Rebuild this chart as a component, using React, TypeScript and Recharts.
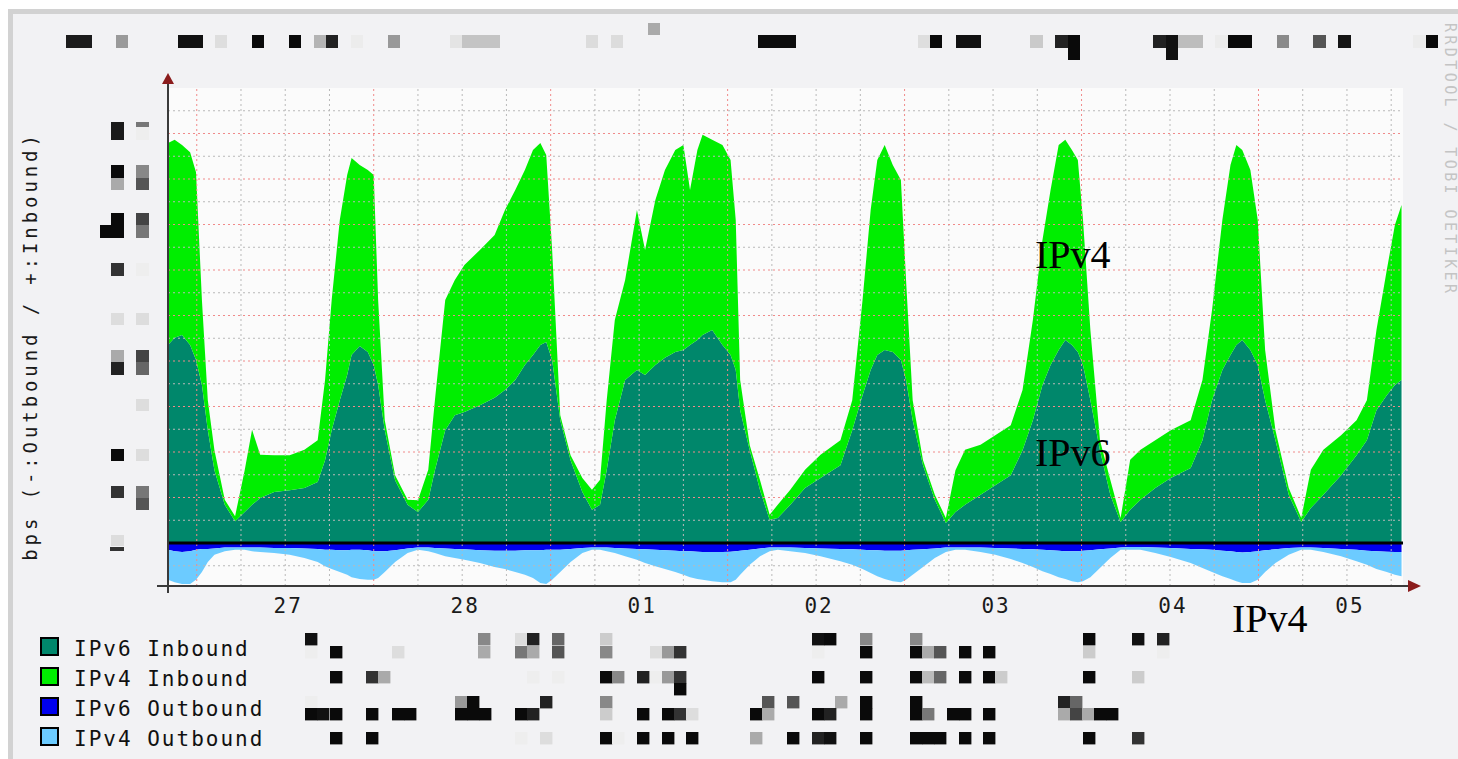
import React from "react";
import { AreaChart, Area, XAxis, YAxis, ReferenceLine } from "recharts";

// hours since the 27th 00:00, one week of samples
const hours = [
  -3.9, -3.0, -2.0, -0.9, -0.1, 0.7, 1.5, 2.4, 3.8, 5.2,
  6.5, 7.5, 8.6, 10.5, 12.6, 14.6, 16.4, 17.4, 18.3, 19.4,
  20.4, 21.0, 22.1, 23.2, 24.0, 24.6, 25.5, 26.9, 28.6, 30.0,
  31.4, 32.3, 33.7, 35.0, 36.3, 38.4, 40.4, 41.8, 43.2, 44.5,
  45.6, 46.6, 47.4, 48.2, 49.3, 50.7, 52.3, 53.6, 54.7, 55.6,
  56.7, 58.1, 59.7, 60.8, 62.2, 63.5, 64.9, 66.0, 66.9, 67.9,
  68.6, 69.9, 71.3, 72.4, 73.1, 73.7, 75.0, 76.4, 77.7, 78.8,
  80.5, 82.5, 84.6, 87.3, 88.9, 90.3, 91.4, 92.3, 93.3, 94.4,
  95.5, 96.2, 97.1, 98.5, 100.1, 101.6, 102.9, 104.2, 106.3, 108.3,
  110.4, 112.0, 113.4, 114.7, 115.8, 116.9, 117.8, 118.7, 119.5, 120.2,
  121.2, 122.5, 123.9, 125.3, 126.6, 128.0, 130.0, 132.1, 134.8, 136.4,
  137.7, 139.1, 140.2, 141.0, 141.8, 142.9, 143.9, 144.9, 146.3, 148.1,
  149.8, 151.1, 152.8, 155.2, 157.3, 158.7, 160.0, 161.4, 162.5, 163.4,
];

const ipv6In = [
  43.5, 45.1, 45.7, 43.5, 40.2, 34.7, 24.8, 16.0, 8.4, 4.8,
  6.8, 8.4, 9.9, 11.2, 11.6, 12.1, 13.4, 18.2, 24.8, 31.4,
  36.9, 41.3, 43.3, 42.0, 39.1, 34.7, 24.8, 13.8, 8.4, 6.8,
  9.5, 16.0, 24.8, 28.1, 28.8, 30.3, 31.9, 33.6, 35.8, 39.1,
  41.3, 43.5, 44.2, 40.2, 27.0, 18.2, 11.2, 7.3, 8.4, 16.0,
  27.0, 35.8, 38.0, 36.9, 39.1, 40.7, 42.0, 42.4, 43.5, 44.6,
  45.7, 46.8, 43.5, 41.3, 38.0, 29.2, 20.4, 11.6, 5.1, 5.5,
  8.4, 12.1, 14.3, 17.1, 24.8, 32.5, 38.0, 41.3, 42.4, 42.0,
  40.2, 35.8, 27.0, 17.1, 9.5, 4.4, 6.8, 8.4, 10.6, 12.7,
  14.9, 20.4, 27.0, 34.7, 39.1, 42.4, 44.6, 43.5, 42.0, 39.1,
  31.4, 20.4, 10.6, 4.6, 7.3, 9.5, 12.1, 14.3, 16.5, 22.6,
  31.4, 38.0, 41.3, 43.5, 44.6, 42.4, 39.1, 31.4, 22.6, 10.6,
  4.6, 7.7, 10.6, 14.9, 19.3, 22.6, 29.2, 32.5, 34.7, 35.8,
];

const ipv4In = [
  44.4, 43.5, 41.8, 42.4, 41.3, 18.7, 6.6, 4.4, 1.1, 1.1,
  9.2, 16.5, 9.5, 8.1, 7.7, 8.4, 9.2, 17.6, 28.6, 39.6,
  44.0, 43.3, 39.8, 40.0, 41.8, 18.7, 2.2, 1.1, 1.1, 2.6,
  6.6, 15.4, 28.6, 29.7, 32.3, 34.1, 35.8, 39.6, 41.8, 42.9,
  45.1, 44.4, 41.1, 24.2, 1.1, 1.1, 3.1, 4.4, 5.5, 15.4,
  22.0, 22.0, 35.2, 27.5, 36.3, 41.3, 44.4, 45.1, 34.1, 41.8,
  44.0, 41.8, 44.0, 42.9, 33.0, 6.6, 1.1, 2.2, 1.1, 2.9,
  3.3, 4.0, 5.1, 5.5, 6.6, 20.9, 35.2, 42.9, 45.1, 41.1,
  39.6, 22.0, 4.4, 1.1, 1.1, 1.1, 9.2, 12.1, 11.0, 11.0,
  11.0, 13.2, 22.0, 31.9, 38.5, 45.1, 44.0, 42.9, 42.2, 31.9,
  15.4, 2.2, 3.3, 0.9, 11.0, 11.0, 10.5, 10.5, 10.5, 13.2,
  19.8, 33.0, 41.8, 44.0, 41.8, 39.6, 31.9, 11.0, 2.2, 1.5,
  0.9, 8.4, 9.9, 8.8, 7.7, 8.8, 17.6, 27.5, 35.2, 38.5,
];

const ipv6Out = [
  -1.5, -1.8, -2.0, -1.8, -1.5, -1.3, -1.3, -1.2, -1.0, -1.0,
  -1.0, -1.0, -1.0, -1.1, -1.1, -1.2, -1.3, -1.5, -1.5, -1.6,
  -1.6, -1.5, -1.5, -1.6, -1.8, -1.8, -1.8, -1.6, -1.2, -1.0,
  -1.0, -1.1, -1.2, -1.3, -1.4, -1.6, -1.7, -1.7, -1.7, -1.6,
  -1.6, -1.6, -1.5, -1.5, -1.5, -1.3, -1.1, -1.0, -1.0, -1.0,
  -1.1, -1.2, -1.3, -1.4, -1.5, -1.6, -1.7, -1.8, -1.8, -1.9,
  -2.0, -2.0, -2.0, -1.9, -1.8, -1.7, -1.5, -1.2, -1.0, -1.0,
  -1.0, -1.1, -1.2, -1.3, -1.4, -1.5, -1.6, -1.6, -1.7, -1.7,
  -1.7, -1.6, -1.5, -1.4, -1.2, -1.0, -1.0, -1.0, -1.0, -1.1,
  -1.2, -1.3, -1.4, -1.5, -1.6, -1.7, -1.8, -1.8, -1.8, -1.7,
  -1.6, -1.4, -1.2, -1.0, -0.9, -0.9, -1.0, -1.1, -1.3, -1.4,
  -1.5, -1.7, -1.8, -2.0, -2.1, -2.0, -1.8, -1.6, -1.4, -1.1,
  -1.0, -1.0, -1.1, -1.3, -1.5, -1.7, -1.8, -1.9, -2.0, -2.0,
];

const ipv4Out = [
  -6.6, -6.8, -7.0, -7.2, -6.6, -5.1, -2.9, -1.4, -0.8, -0.5,
  -0.5, -0.8, -1.0, -1.1, -1.5, -2.1, -2.9, -3.6, -4.2, -4.8,
  -5.4, -6.0, -6.4, -6.5, -6.3, -5.9, -4.6, -2.6, -1.0, -0.5,
  -0.8, -1.1, -1.7, -2.0, -2.3, -2.8, -3.6, -4.0, -4.7, -5.4,
  -6.1, -7.2, -7.5, -6.6, -4.9, -2.9, -1.1, -0.5, -0.5, -0.8,
  -1.1, -1.7, -2.4, -3.0, -3.6, -4.1, -4.7, -5.2, -5.7, -6.0,
  -6.1, -6.4, -6.6, -6.7, -6.3, -5.3, -3.3, -1.7, -0.8, -0.5,
  -0.8, -1.1, -1.7, -2.7, -3.4, -4.2, -5.0, -5.7, -6.2, -6.7,
  -6.9, -6.5, -5.5, -3.9, -2.1, -1.0, -0.5, -0.5, -1.0, -1.5,
  -2.3, -3.1, -3.9, -4.7, -5.2, -5.8, -6.1, -6.6, -6.8, -6.7,
  -5.9, -4.1, -2.1, -0.5, -0.6, -0.6, -1.2, -2.0, -3.1, -4.1,
  -4.9, -5.6, -6.1, -6.4, -6.7, -6.8, -6.3, -4.8, -3.0, -1.5,
  -0.5, -0.5, -0.9, -1.6, -2.5, -3.1, -3.9, -4.5, -5.0, -5.3,
];

const dayTicks = [12, 36, 60, 84, 108, 132, 156];
const dayLabels = ["27", "28", "01", "02", "03", "04", "05"];

// grid: red = midnight / every 10, grey = every 6h / every 5
const majorHours = [0, 24, 48, 72, 96, 120, 144];
const minorHours = [6, 12, 18, 30, 36, 42, 54, 60, 66, 78, 84, 90, 102, 108, 114, 126, 132, 138, 150, 156, 162];
const majorLevels = [10, 20, 30, 40, 50, 60, 70, 80, 90];
const minorLevels = [-5, 5, 15, 25, 35, 45, 55, 65, 75, 85, 95];

const series = [
  { key: "v6in", name: "IPv6 Inbound", color: "#00876b" },
  { key: "v4in", name: "IPv4 Inbound", color: "#00ee00" },
  { key: "v6out", name: "IPv6 Outbound", color: "#0000ee" },
  { key: "v4out", name: "IPv4 Outbound", color: "#6ccbff" },
];

const data = hours.map((h, i) => ({
  h,
  v6in: ipv6In[i],
  v4in: ipv4In[i],
  v6out: ipv6Out[i],
  v4out: ipv4Out[i],
}));

// blurred-out text blocks in the original picture: [x, y, w, h, shade]
type Block = [number, number, number, number, string];
const K = "#0a0a0a";
const headerBlocks: Block[] = [
  [66, 35, 26, 13, "#1c1c1c"], [116, 35, 12, 13, "#9a9a9a"], [178, 35, 25, 13, "#111"], [215, 35, 12, 13, "#dedede"],
  [252, 35, 12, 13, K], [289, 35, 12, 13, K], [314, 35, 12, 13, "#b4b4b4"], [326, 35, 12, 13, "#222"],
  [351, 35, 12, 13, "#ececec"], [388, 35, 12, 13, "#999"], [450, 35, 12, 13, "#e4e4e4"], [462, 35, 38, 13, "#c4c4c4"],
  [586, 35, 12, 13, "#dcdcdc"], [611, 35, 12, 13, "#dcdcdc"], [648, 23, 12, 12, "#aaa"], [758, 35, 38, 13, "#0d0d0d"],
  [918, 35, 12, 13, "#dedede"], [930, 35, 12, 13, K], [956, 35, 25, 13, "#111"], [1030, 35, 13, 13, "#cacaca"],
  [1055, 35, 13, 13, "#222"], [1068, 35, 12, 25, K], [1153, 35, 13, 13, "#222"], [1166, 35, 12, 25, "#111"],
  [1178, 35, 25, 13, "#bdbdbd"], [1215, 35, 13, 13, "#ececec"], [1228, 35, 24, 13, K], [1277, 35, 12, 13, "#8a8a8a"],
  [1313, 35, 13, 13, "#555"], [1338, 35, 13, 13, "#151515"], [1413, 35, 13, 13, "#ececec"], [1426, 35, 12, 13, K],
];
const axisBlocks: Block[] = [
  [111, 122, 13, 18, "#1a1a1a"], [136, 122, 13, 5, "#777"], [136, 127, 13, 13, "#eee"],
  [111, 165, 13, 13, K], [136, 165, 13, 13, "#888"], [111, 178, 13, 12, "#aaa"], [136, 178, 13, 12, "#555"],
  [111, 213, 13, 25, K], [100, 225, 11, 13, K], [136, 213, 13, 12, "#444"], [136, 225, 13, 13, "#777"],
  [111, 263, 13, 13, "#333"], [136, 263, 13, 13, "#eee"],
  [111, 313, 13, 12, "#ddd"], [136, 313, 13, 12, "#ddd"],
  [111, 350, 13, 12, "#aaa"], [136, 350, 13, 12, "#444"], [111, 362, 13, 13, "#222"], [136, 362, 13, 13, "#666"],
  [136, 399, 13, 12, "#ddd"],
  [111, 449, 13, 12, K], [136, 449, 13, 12, "#ddd"],
  [111, 486, 13, 12, "#333"], [136, 486, 13, 12, "#777"], [136, 498, 13, 12, "#555"],
  [111, 535, 13, 11, "#ddd"], [110, 547, 14, 4, "#333"],
];
const legendRows: [number, [number, string][]][] = [
  [633, [[305, "#111"], [478, "#888"], [515, "#ddd"], [527, "#222"], [552, "#666"], [600, "#ccc"], [812, "#111"], [824, K], [860, "#888"], [910, "#888"], [1083, K], [1132, "#111"], [1157, "#222"]]],
  [646, [[305, "#eee"], [330, K], [392, "#ddd"], [478, "#aaa"], [515, "#777"], [527, "#aaa"], [552, "#555"], [600, "#888"], [650, "#ddd"], [662, "#999"], [674, "#333"], [812, "#eee"], [860, K], [910, K], [922, "#aaa"], [934, "#555"], [959, K], [983, K], [1083, "#ccc"], [1157, "#eee"]]],
  [671, [[330, K], [366, "#333"], [378, "#aaa"], [527, "#eee"], [552, "#eee"], [600, K], [612, "#888"], [637, "#222"], [650, "#eee"], [662, "#999"], [674, "#333"], [812, K], [860, K], [910, K], [922, "#bbb"], [934, "#666"], [959, K], [983, K], [995, "#ccc"], [1083, K], [1132, "#ccc"]]],
  [683, [[674, K]]],
  [696, [[305, "#eee"], [455, "#999"], [467, K], [540, "#222"], [600, "#888"], [762, "#555"], [787, "#555"], [835, "#aaa"], [860, K], [910, K], [1058, "#222"], [1070, "#666"]]],
  [708, [[305, K], [317, "#111"], [330, K], [366, K], [392, K], [404, K], [455, K], [467, K], [479, K], [515, K], [527, "#222"], [600, "#ccc"], [637, K], [662, K], [674, "#333"], [686, "#ddd"], [750, K], [762, "#aaa"], [812, K], [824, "#222"], [860, K], [910, K], [922, "#777"], [947, K], [959, K], [983, K], [1058, "#aaa"], [1070, "#444"], [1082, "#aaa"], [1094, K], [1106, K]]],
  [732, [[330, K], [366, K], [515, "#eee"], [540, "#ddd"], [600, K], [612, "#eee"], [637, K], [662, K], [686, K], [750, "#aaa"], [787, K], [812, "#222"], [824, "#111"], [860, K], [910, K], [922, K], [934, K], [959, K], [983, K], [1083, K], [1132, "#333"]]],
];

const MONO = "'DejaVu Sans Mono', monospace";

function DayTick(props: any) {
  const { x, y, payload } = props;
  const i = dayTicks.indexOf(payload.value);
  return (
    <text x={x + 3} y={y + 27} textAnchor="middle" fontFamily={MONO} fontSize={21} letterSpacing={2} fill="#1a1a1a">
      {dayLabels[i]}
    </text>
  );
}

export default function App() {
  const blocks: Block[] = [
    ...headerBlocks,
    ...axisBlocks,
    ...legendRows.flatMap(([y, row]) => row.map(([x, c]) => [x, y, 12.4, 12.4, c] as Block)),
  ];
  return (
    <div style={{ position: "absolute", left: 0, top: 0, width: 1458, height: 759, background: "#fff", overflow: "hidden" }}>
      <div
        style={{
          position: "absolute", left: 8, top: 9, right: 0, bottom: 0,
          borderTop: "5px solid #d2d2d2", borderLeft: "5px solid #d2d2d2", background: "#f2f2f4",
        }}
      />
      <div style={{ position: "absolute", left: 168, top: 88, width: 1235, height: 498, background: "#fbfbfb" }} />
      <div style={{ position: "absolute", left: 0, top: 0 }}>
        <AreaChart
          width={1458}
          height={759}
          data={data}
          stackOffset="sign"
          margin={{ top: 88, right: 55, bottom: 143, left: 168 }}
        >
          <XAxis
            type="number"
            dataKey="h"
            domain={[-3.9, 163.6]}
            ticks={dayTicks}
            tick={<DayTick />}
            axisLine={false}
            tickLine={false}
            tickSize={0}
            tickMargin={0}
            height={30}
            allowDataOverflow
          />
          <YAxis type="number" domain={[-9.45, 100]} hide width={0} allowDataOverflow />
          {series.map((s) => (
            <Area
              key={s.key}
              dataKey={s.key}
              name={s.name}
              stackId="a"
              type="linear"
              fill={s.color}
              fillOpacity={1}
              stroke="none"
              dot={false}
              activeDot={false}
              isAnimationActive={false}
            />
          ))}
          {minorHours.map((h) => (
            <ReferenceLine key={"mh" + h} x={h} stroke="#b9b9b9" strokeDasharray="2 3" />
          ))}
          {minorLevels.map((v) => (
            <ReferenceLine key={"mv" + v} y={v} stroke="#b9b9b9" strokeDasharray="2 3" />
          ))}
          {majorHours.map((h) => (
            <ReferenceLine key={"Mh" + h} x={h} stroke="#f08a8a" strokeDasharray="2 3" />
          ))}
          {majorLevels.map((v) => (
            <ReferenceLine key={"Mv" + v} y={v} stroke="#f08a8a" strokeDasharray="2 3" />
          ))}
          <ReferenceLine y={0} stroke="#000" strokeWidth={3} />
        </AreaChart>
      </div>
      <svg width={1458} height={759} style={{ position: "absolute", left: 0, top: 0, pointerEvents: "none" }}>
        <line x1={168} y1={82} x2={168} y2={593} stroke="#3a3a3a" strokeWidth={2} />
        <line x1={157} y1={586} x2={1410} y2={586} stroke="#3a3a3a" strokeWidth={2} />
        <polygon points="168,73 162,84 174,84" fill="#8b1c1c" />
        <polygon points="1421,586 1408,580 1408,592" fill="#8b1c1c" />
        {blocks.map(([x, y, w, h, c], i) => (
          <rect key={i} x={x} y={y} width={w} height={h} fill={c} />
        ))}
        <text
          transform="translate(37,346) rotate(-90)"
          textAnchor="middle"
          fontFamily={MONO}
          fontSize={19}
          letterSpacing={3.9}
          fill="#1a1a1a"
        >
          bps (-:Outbound / +:Inbound)
        </text>
        <text
          transform="translate(1445,23) rotate(90)"
          fontFamily={MONO}
          fontSize={15}
          letterSpacing={3.4}
          fill="#c4c4c4"
        >
          RRDTOOL / TOBI OETIKER
        </text>
        {series.map((s, i) => (
          <g key={s.key}>
            <rect x={41} y={638 + i * 30} width={17} height={17} fill={s.color} stroke="#000" strokeWidth={2} />
            <text x={74} y={656 + i * 30} fontFamily={MONO} fontSize={21} letterSpacing={2} fill="#111">
              {s.name}
            </text>
          </g>
        ))}
        <text x={1035} y={268} fontFamily="'Liberation Serif', serif" fontSize={40} fill="#000">IPv4</text>
        <text x={1035} y={466} fontFamily="'Liberation Serif', serif" fontSize={40} fill="#000">IPv6</text>
        <text x={1232} y={632} fontFamily="'Liberation Serif', serif" fontSize={40} fill="#000">IPv4</text>
      </svg>
    </div>
  );
}
